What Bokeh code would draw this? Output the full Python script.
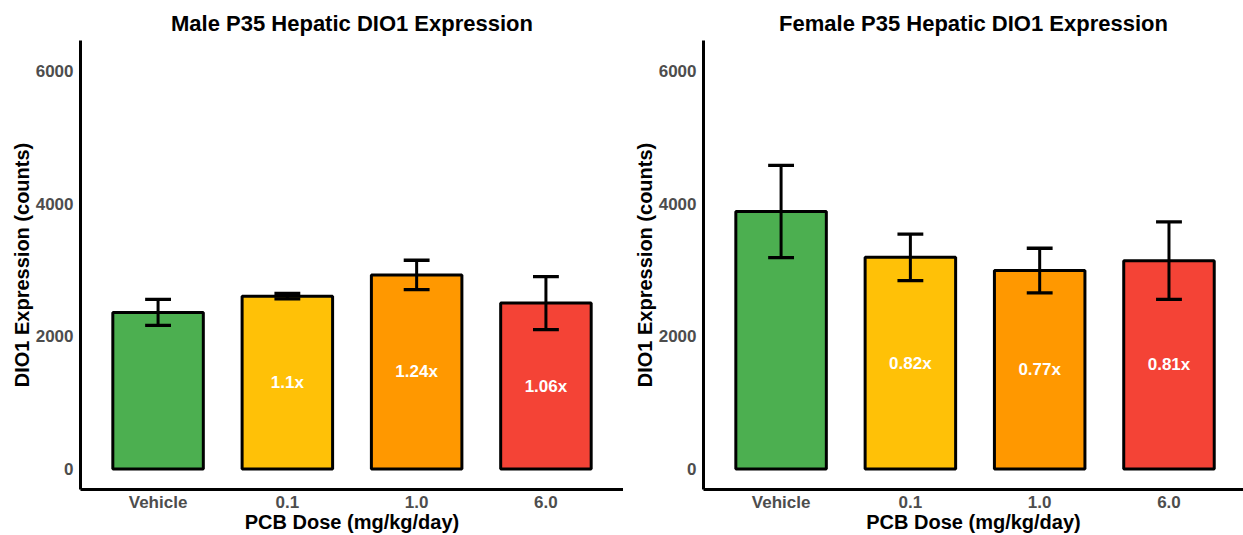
from bokeh.plotting import figure
from bokeh.layouts import row
from bokeh.models import ColumnDataSource, FixedTicker, Range1d
from bokeh.core.properties import value
from bokeh.embed import file_html
from bokeh.resources import INLINE

# Dose groups (x tick labels) and bar colours
doses = ["Vehicle", "0.1", "1.0", "6.0"]
bar_colors = ["#4CAF50", "#FFC107", "#FF9800", "#F44336"]

# Mean hepatic DIO1 counts and standard errors at P35
male_mean = [2360, 2605, 2925, 2500]
male_sem = [196, 40, 221, 400]
female_mean = [3880, 3190, 2990, 3140]
female_sem = [695, 350, 337, 585]

y_ticks = [0, 2000, 4000, 6000]

FONT = "Liberation Sans"


def dio1_panel(title, means, sems, frame_w, x_end):
    xs = list(range(1, len(doses) + 1))
    vehicle = means[0]
    folds = ["" if i == 0 else f"{round(m / vehicle, 2):g}x" for i, m in enumerate(means)]
    src = ColumnDataSource(dict(
        x=xs,
        mean=means,
        half=[m / 2 for m in means],
        lo=[m - s for m, s in zip(means, sems)],
        hi=[m + s for m, s in zip(means, sems)],
        cap_l=[x - 0.1 for x in xs],
        cap_r=[x + 0.1 for x in xs],
        color=bar_colors,
        fold=folds,
    ))

    p = figure(
        frame_width=frame_w, frame_height=449,
        min_border_left=80, min_border_right=0, min_border_top=40, min_border_bottom=46,
        x_range=Range1d(0.4, x_end), y_range=Range1d(-309, 6458),
        output_backend="svg", toolbar_location=None, title=title,
    )
    p.outline_line_color = None
    p.xgrid.visible = False
    p.ygrid.visible = False
    p.background_fill_color = "white"
    p.border_fill_color = "white"

    p.title.text_font = FONT
    p.title.text_font_size = "22px"
    p.title.text_font_style = "bold"
    p.title.text_color = "black"
    p.title.align = "center"
    p.title.standoff = 10

    for ax in (p.xaxis[0], p.yaxis[0]):
        ax.axis_line_width = 3
        ax.axis_line_color = "black"
        ax.major_tick_out = 0
        ax.major_tick_in = 0
        ax.minor_tick_out = 0
        ax.minor_tick_in = 0
        ax.major_label_text_font = FONT
        ax.major_label_text_font_size = "17px"
        ax.major_label_text_font_style = "bold"
        ax.major_label_text_color = "#4D4D4D"
        ax.axis_label_text_font = FONT
        ax.axis_label_text_font_size = "20px"
        ax.axis_label_text_font_style = "bold"
        ax.axis_label_text_color = "black"

    p.xaxis.ticker = FixedTicker(ticks=xs)
    p.xaxis.major_label_overrides = {x: d for x, d in zip(xs, doses)}
    p.xaxis.axis_label = "PCB Dose (mg/kg/day)"
    p.xaxis.major_label_standoff = 3
    p.xaxis.axis_label_standoff = -4

    p.yaxis.ticker = FixedTicker(ticks=y_ticks)
    p.yaxis.axis_label = "DIO1 Expression (counts)"
    p.yaxis.major_label_standoff = 7
    p.yaxis.axis_label_standoff = 0

    p.vbar(x="x", top="mean", bottom=0, width=0.7, source=src,
           fill_color="color", line_color="black", line_width=3)

    # error bars: stem plus caps
    p.segment(x0="x", y0="lo", x1="x", y1="hi", source=src, line_color="black", line_width=3)
    p.segment(x0="cap_l", y0="hi", x1="cap_r", y1="hi", source=src, line_color="black", line_width=3.3)
    p.segment(x0="cap_l", y0="lo", x1="cap_r", y1="lo", source=src, line_color="black", line_width=3.3)

    p.text(x="x", y="half", text="fold", source=src,
           text_font=value(FONT), text_font_style="bold", text_font_size="17px",
           text_color="white", text_align="center", text_baseline="middle")
    return p


left = dio1_panel("Male P35 Hepatic DIO1 Expression", male_mean, male_sem, 543, 4.6)
right = dio1_panel("Female P35 Hepatic DIO1 Expression", female_mean, female_sem, 540, 0.4 + 540 / 129.3)

layout = row(left, right)
open("out.html", "w").write(file_html(layout, INLINE))
